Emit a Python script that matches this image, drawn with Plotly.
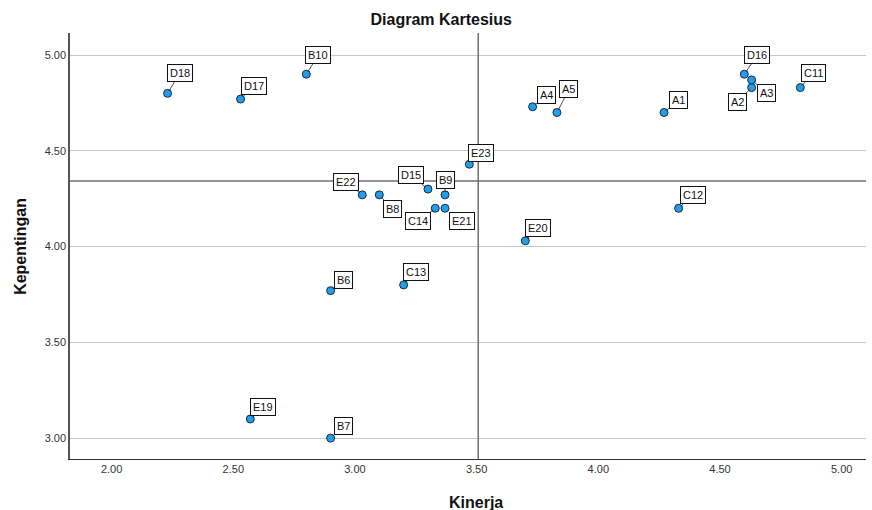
import plotly.graph_objects as go

labels = ["A1", "A2", "A3", "A4", "A5", "B6", "B7", "B8", "B9", "B10", "C11", "C12",
          "C13", "C14", "D15", "D16", "D17", "D18", "E19", "E20", "E21", "E22", "E23"]
kinerja = [4.27, 4.63, 4.63, 3.73, 3.83, 2.90, 2.90, 3.10, 3.37, 2.80, 4.83, 4.33,
           3.20, 3.33, 3.30, 4.60, 2.53, 2.23, 2.57, 3.70, 3.37, 3.03, 3.47]
kepentingan = [4.70, 4.83, 4.87, 4.73, 4.70, 3.77, 3.00, 4.27, 4.27, 4.90, 4.83, 4.20,
               3.80, 4.20, 4.30, 4.90, 4.77, 4.80, 3.10, 4.03, 4.20, 4.27, 4.43]
tick_vals = [2.0, 2.5, 3.0, 3.5, 4.0, 4.5, 5.0]
ytick_vals = [3.0, 3.5, 4.0, 4.5, 5.0]

# label box placement (pixel offsets of box centre from point)
offsets = {
    "A1": (14, -12), "A2": (-14, 14), "A3": (15, 13), "A4": (14, -12), "A5": (12, -23),
    "B6": (13, -11), "B7": (13, -12), "B8": (13, 14), "B9": (0, -15), "B10": (12, -19),
    "C11": (13, -15), "C12": (14, -13), "C13": (12, -13), "C14": (-17, 13),
    "D15": (-17, -14), "D16": (13, -19), "D17": (13, -13), "D18": (12, -20),
    "E19": (13, -12), "E20": (13, -13), "E21": (17, 13), "E22": (-16, -13), "E23": (12, -11),
}

mean_x = sum(kinerja) / len(kinerja)
mean_y = sum(kepentingan) / len(kepentingan)

FONT = "Liberation Sans, Arial, sans-serif"

fig = go.Figure()
fig.add_trace(go.Scatter(
    x=kinerja, y=kepentingan, mode="markers",
    marker=dict(size=8, color="#239de8", line=dict(color="#1a2a4a", width=1)),
    hoverinfo="text", text=labels, showlegend=False,
))

annotations = []
for lab, xv, yv in zip(labels, kinerja, kepentingan):
    dx, dy = offsets[lab]
    annotations.append(dict(
        x=xv, y=yv, xref="x", yref="y", text=lab,
        showarrow=True, ax=dx, ay=dy, arrowhead=0, arrowwidth=0.8,
        arrowcolor="#222222", standoff=3, startstandoff=0,
        font=dict(family=FONT, size=11, color="#111111"),
        bgcolor="white", bordercolor="#111111", borderwidth=1, borderpad=2,
    ))

# axis titles
annotations.append(dict(text="<b>Kinerja</b>", xref="paper", yref="paper", x=0.51, y=-0.1015,
                        xanchor="center", yanchor="middle", showarrow=False,
                        font=dict(family=FONT, size=16, color="#111111")))
annotations.append(dict(text="<b>Kepentingan</b>", xref="paper", yref="paper", x=-0.063, y=0.5,
                        xanchor="center", yanchor="middle", showarrow=False, textangle=-90,
                        font=dict(family=FONT, size=16, color="#111111")))

shapes = [
    dict(type="line", xref="x", yref="paper", x0=mean_x, x1=mean_x, y0=0, y1=1,
         line=dict(color="#707070", width=1.5)),
    dict(type="line", xref="paper", yref="y", x0=0, x1=1, y0=mean_y, y1=mean_y,
         line=dict(color="#707070", width=1.5)),
]

fig.update_layout(
    width=872, height=510,
    margin=dict(l=70, r=6, t=33, b=51, autoexpand=False),
    paper_bgcolor="white", plot_bgcolor="white",
    font=dict(family=FONT, color="#222222"),
    title=dict(text="<b>Diagram Kartesius</b>", x=0.506, xref="container", y=0.961, yref="container",
               xanchor="center", yanchor="middle",
               font=dict(family=FONT, size=16, color="#111111")),
    annotations=annotations,
    shapes=shapes,
    xaxis=dict(
        range=[1.829, 5.10], tickvals=tick_vals, ticktext=[f"{v:.2f}" for v in tick_vals],
        showgrid=False, zeroline=False, showline=True, linecolor="#333333", linewidth=1,
        ticks="", automargin=False, tickfont=dict(family=FONT, size=11, color="#333333"),
    ),
    yaxis=dict(
        range=[2.891, 5.115], tickvals=ytick_vals, ticktext=[f"{v:.2f}" for v in ytick_vals],
        showgrid=True, gridcolor="#c8c8c8", gridwidth=1, zeroline=False,
        showline=True, linecolor="#555555", linewidth=1.5,
        ticks="", automargin=False, tickfont=dict(family=FONT, size=11, color="#333333"),
    ),
)

fig.write_html("out.html", config={"displayModeBar": False},
               post_script="document.body.style.margin='0';document.body.style.overflow='hidden';")
